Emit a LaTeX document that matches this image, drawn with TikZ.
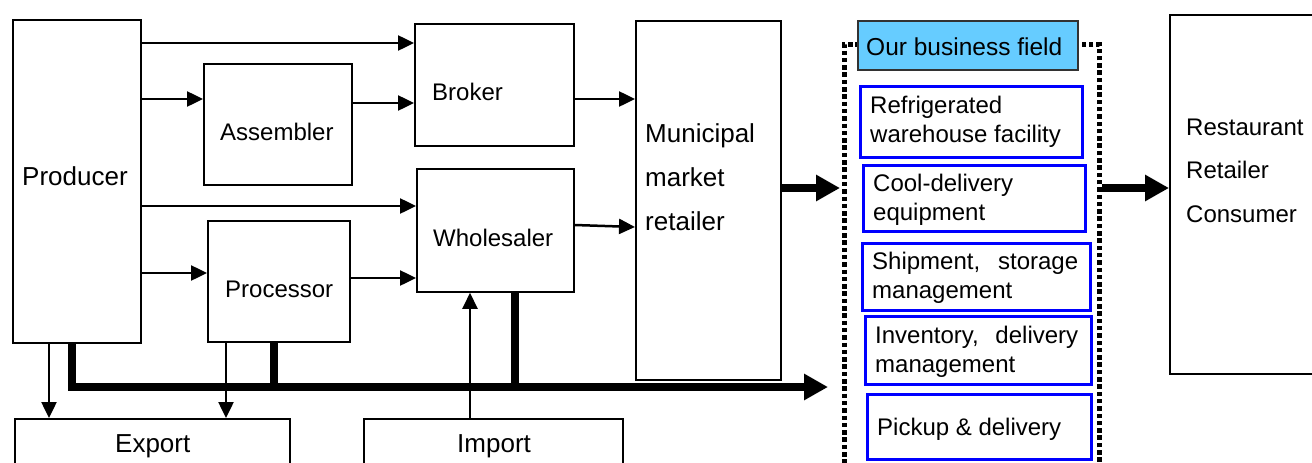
\documentclass[tikz,border=0pt]{standalone}
\usepackage{fontspec}
\setmainfont{Liberation Sans}
\usetikzlibrary{arrows.meta,calc}
\definecolor{fieldblue}{RGB}{102,204,255}
\definecolor{servblue}{RGB}{0,0,255}
\definecolor{labeledge}{RGB}{50,50,50}
\begin{document}
\begin{tikzpicture}[x=1pt,y=-1pt,
  box/.style={draw, line width=1.8pt, anchor=north west, inner sep=0pt},
  servbox/.style={draw=servblue, line width=3pt, anchor=north west, inner sep=0pt},
  dotframe/.style={draw, line width=4.5pt, dash pattern=on 4.5pt off 2.8pt, anchor=north west, inner sep=0pt},
  fieldbox/.style={draw=labeledge, fill=fieldblue, line width=1.8pt, anchor=north west, inner sep=0pt},
  lbl/.style={anchor=base west, inner sep=0pt, align=left, font=\fontsize{24pt}{29pt}\selectfont},
  biglbl/.style={lbl, font=\fontsize{26pt}{44pt}\selectfont},
  arr/.style={line width=2.5pt, -{Triangle[length=16pt,width=15pt]}},
  busline/.style={line width=7.5pt},
  busarr/.style={line width=7.5pt, -{Triangle[length=24pt,width=25pt]}},
]
\fill[white] (0,0) rectangle (1312,463);
\useasboundingbox (0,0) rectangle (1312,463);

% supply chain boxes
\node[box, minimum width=128pt, minimum height=323pt] (prod) at (12,19) {};
\node[box, minimum width=148pt, minimum height=121pt] (asm) at (203,63) {};
\node[box, minimum width=142pt, minimum height=121pt] (proc) at (207,220) {};
\node[box, minimum width=159pt, minimum height=122pt] (broker) at (414,23) {};
\node[box, minimum width=157pt, minimum height=123pt] (whole) at (416,168) {};
\node[box, minimum width=145pt, minimum height=359pt] (muni) at (635,20) {};
\node[box, minimum width=275pt, minimum height=60pt] (export) at (14,418) {};
\node[box, minimum width=259pt, minimum height=60pt] (import) at (363,418) {};
\node[box, minimum width=160pt, minimum height=359pt] (client) at (1169,14) {};

% business field frame and its services
\node[dotframe, minimum width=255pt, minimum height=440pt] (biz) at (842,42) {};
\node[fieldbox, minimum width=220pt, minimum height=49pt] (field) at (857,20) {};
\node[servbox, minimum width=222pt, minimum height=71pt] (serv1) at (859,85) {};
\node[servbox, minimum width=222pt, minimum height=66pt] (serv2) at (862,164) {};
\node[servbox, minimum width=228pt, minimum height=67pt] (serv3) at (861,242) {};
\node[servbox, minimum width=226pt, minimum height=68pt] (serv4) at (864,315) {};
\node[servbox, minimum width=224pt, minimum height=65pt] (serv5) at (866,393) {};

% texts (multi-line labels are placed by the baseline of their last line)
\node[biglbl] (prodtxt) at (22,185) {Producer};
\node[lbl] (asmtxt) at (220,140) {Assembler};
\node[lbl] (proctxt) at (225,297) {Processor};
\node[lbl] (brokertxt) at (432,100) {Broker};
\node[lbl] (wholetxt) at (433,246) {Wholesaler};
\node[biglbl] (munitxt) at (645,230) {Municipal\\market\\retailer};
\node[biglbl] (exporttxt) at (115,452) {Export};
\node[biglbl] (importtxt) at (457,452) {Import};
\node[lbl, font=\fontsize{24.5pt}{29pt}\selectfont] (fieldtxt) at (866,55) {Our business field};
\node[lbl] (serv1txt) at (870,142) {Refrigerated\\warehouse facility};
\node[lbl] (serv2txt) at (873,220) {Cool-delivery\\equipment};
\node[lbl] (serv3txt) at (872,298) {\hbox to 206pt{Shipment,\hfill storage}\\management};
\node[lbl] (serv4txt) at (875,372) {\hbox to 203pt{Inventory,\hfill delivery}\\management};
\node[lbl] (serv5txt) at (877,435) {Pickup \& delivery};
\node[lbl, font=\fontsize{24pt}{43.5pt}\selectfont] (clienttxt) at (1186,222) {Restaurant\\Retailer\\Consumer};

% thin flows
\draw[arr] (prod.east |- 0,43) -- (broker.west |- 0,43);
\draw[arr] (prod.east |- 0,99) -- (asm.west |- 0,99);
\draw[arr] (asm.east |- 0,103) -- (broker.west |- 0,103);
\draw[arr] (prod.east |- 0,206) -- (whole.west |- 0,206);
\draw[arr] (prod.east |- 0,273) -- (proc.west |- 0,273);
\draw[arr] (proc.east |- 0,278) -- (whole.west |- 0,278);
\draw[arr] (broker.east |- 0,99) -- (muni.west |- 0,99);
\draw[arr] (whole.east |- 0,225) -- (muni.west |- 0,227);
\draw[arr] (prod.south -| 49,0) -- (export.north -| 49,0);
\draw[arr] (proc.south -| 226,0) -- (export.north -| 226,0);

% direct route to the business field
\coordinate (busend) at ($(biz.west |- 0,387)+(-14,0)$);
\draw[busline] (proc.south -| 274,0) -- (274,387);
\draw[busline] (whole.south -| 515,0) -- (515,387);
\draw[busarr] (prod.south -| 72,0) |- (busend);
\draw[arr] (import.north -| 470,0) -- (whole.south -| 470,0);

% main flow
\draw[busarr] (muni.east |- 0,188) -- ($(biz.west |- 0,188)+(-2,0)$);
\draw[busarr] (biz.east |- 0,188) -- (client.west |- 0,188);
\end{tikzpicture}
\end{document}
